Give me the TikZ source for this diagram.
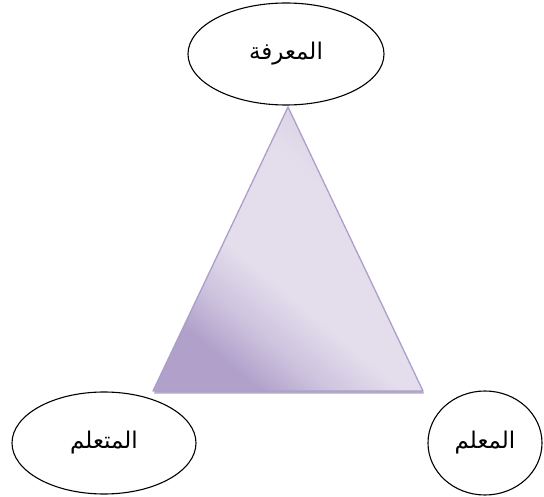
\documentclass[tikz,border=0pt]{standalone}
\usepackage{fontspec}
\TeXXeTstate=1
\newfontfamily\arabicfont[Script=Arabic]{DejaVu Sans}
\definecolor{tdark}{RGB}{176,160,202}
\definecolor{tmid}{RGB}{205,195,222}
\definecolor{tlight}{RGB}{228,222,236}
\definecolor{ttop}{RGB}{214,204,226}
\definecolor{tedge}{RGB}{172,158,204}
\definecolor{tshadow}{RGB}{160,150,180}
\pgfdeclareverticalshading{trishade}{100bp}{color(0bp)=(tdark); color(27bp)=(tdark); color(35bp)=(tmid); color(44bp)=(tlight); color(62bp)=(tlight); color(76bp)=(ttop); color(100bp)=(ttop)}
\tikzset{
  oval/.style={ellipse, draw=black, line width=1.1pt, fill=white, inner sep=0pt},
  lbl/.style={font=\arabicfont\fontsize{23}{26}\selectfont}
}
\usetikzlibrary{shapes.geometric}
\begin{document}
\begin{tikzpicture}[x=1pt,y=-1pt]
\useasboundingbox (0,0) rectangle (544,497);
\coordinate (apex) at (288,107);
\coordinate (bl) at (153,391);
\coordinate (br) at (423,391);
% shadow
\fill[tshadow, opacity=0.8] ([shift={(1,2.5)}]apex) -- ([shift={(1,2.5)}]br) -- ([shift={(1,2.5)}]bl) -- cycle;
\shade[shading=trishade, shading angle=-40] (apex) -- (br) -- (bl) -- cycle;
\draw[tedge, line width=1.3pt, line join=round] (apex) -- (br) -- (bl) -- cycle;
\node[oval, minimum width=196pt, minimum height=102pt] (know) at (286,54) {};
\node[lbl] at (know.center) {\beginR المعرفة\endR};
\node[oval, minimum width=184pt, minimum height=102pt] (learner) at (104,443) {};
\node[lbl] at (learner.center) {\beginR المتعلم\endR};
\node[oval, minimum width=114pt, minimum height=104pt] (teacher) at (485,443) {};
\node[lbl] at (teacher.center) {\beginR المعلم\endR};
\end{tikzpicture}
\end{document}
